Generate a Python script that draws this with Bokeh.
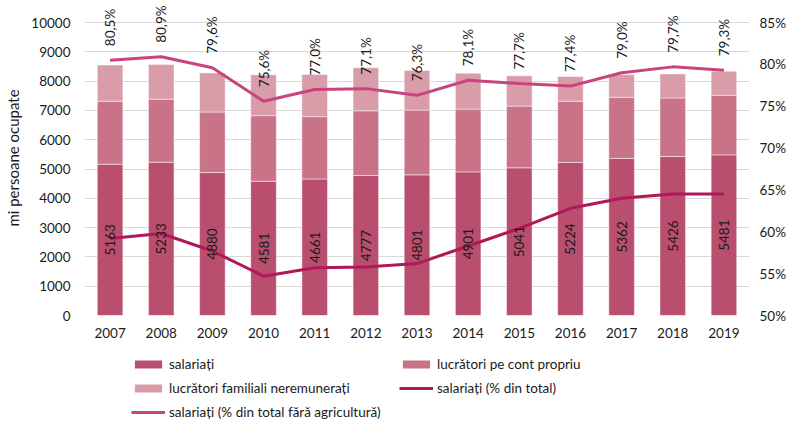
import math
from bokeh.plotting import figure
from bokeh.layouts import column
from bokeh.models import (ColumnDataSource, Range1d, LinearAxis, FactorRange,
                          Legend, LegendItem, FixedTicker, CustomJSTickFormatter)
from bokeh.core.properties import value
from bokeh.embed import file_html
from bokeh.resources import INLINE

years = ["2007", "2008", "2009", "2010", "2011", "2012", "2013",
         "2014", "2015", "2016", "2017", "2018", "2019"]
salariati = [5163, 5233, 4880, 4581, 4661, 4777, 4801, 4901, 5041, 5224, 5362, 5426, 5481]
cont_propriu = [2150, 2150, 2065, 2240, 2125, 2210, 2210, 2145, 2105, 2090, 2085, 2000, 2035]
familiali = [1235, 1180, 1335, 1395, 1440, 1470, 1350, 1225, 1035, 845, 775, 820, 820]
pct_total = [59.2, 59.8, 57.7, 54.7, 55.7, 55.8, 56.2, 58.3, 60.4, 62.8, 64.0, 64.5, 64.5]
pct_fara_agri = [80.5, 80.9, 79.6, 75.6, 77.0, 77.1, 76.3, 78.1, 77.7, 77.4, 79.0, 79.7, 79.3]

left_ticks = list(range(0, 10001, 1000))
right_ticks = list(range(50, 86, 5))

series_names = ["salariați", "lucrători pe cont propriu", "lucrători familiali neremunerați",
                "salariați (% din total)", "salariați (% din total fără agricultură)"]

FONT = "Lato"
TXT = "#1a1a1a"
C_SAL = "#B94E6F"
C_CP = "#C87387"
C_FAM = "#D99CA9"
C_LINE1 = "#B0185A"
C_LINE2 = "#C9447F"
FS = "13.5px"

src = ColumnDataSource(dict(
    years=years,
    salariati=salariati,
    cont_propriu=cont_propriu,
    familiali=familiali,
    pct_total=pct_total,
    pct_fara_agri=pct_fara_agri,
    sal_mid=[s / 2 for s in salariati],
    sal_lbl=[str(s) for s in salariati],
    pct_lbl=[("%.1f%%" % v).replace(".", ",") for v in pct_fara_agri],
))

# frame spans from the canvas top so rotated labels above 10000 are not clipped;
# the 10000 / 85% gridline sits 22px below the top
H_MAIN = 350
B_MAIN = 35
frame_h = H_MAIN - B_MAIN
gap_top = 22
ext = frame_h / (frame_h - gap_top)

p = figure(x_range=FactorRange(*years), y_range=Range1d(0, 10000 * ext),
           width=788, height=H_MAIN, output_backend="svg", toolbar_location=None,
           min_border_left=84, min_border_right=36, min_border_top=0,
           min_border_bottom=B_MAIN)
p.outline_line_color = None
p.extra_y_ranges = {"pct": Range1d(50, 50 + 35 * ext)}

p.vbar_stack(["salariati", "cont_propriu", "familiali"], x="years", width=0.5,
             source=src, color=[C_SAL, C_CP, C_FAM],
             line_color="white", line_width=0.8, line_alpha=0.6)

p.line(x="years", y="pct_total", source=src, y_range_name="pct",
       line_color=C_LINE1, line_width=3)
p.line(x="years", y="pct_fara_agri", source=src, y_range_name="pct",
       line_color=C_LINE2, line_width=3)

p.text(x="years", y="sal_mid", text="sal_lbl", source=src, angle=math.pi / 2,
       text_align="center", text_baseline="middle", text_font=value(FONT),
       text_font_size=FS, text_color=TXT)
p.text(x="years", y="pct_fara_agri", text="pct_lbl", source=src, y_range_name="pct",
       angle=math.pi / 2, text_align="left", text_baseline="middle",
       y_offset=-14, text_font=value(FONT), text_font_size=FS, text_color=TXT)

p.yaxis.ticker = FixedTicker(ticks=left_ticks)
p.yaxis.axis_label = "mi persoane ocupate"
p.yaxis.axis_label_text_font = FONT
p.yaxis.axis_label_text_font_size = "15px"
p.yaxis.axis_label_text_font_style = "normal"
p.yaxis.axis_label_text_color = TXT
p.yaxis.axis_label_standoff = 6

right = LinearAxis(y_range_name="pct", ticker=FixedTicker(ticks=right_ticks),
                   formatter=CustomJSTickFormatter(code="return tick + '%';"))
p.add_layout(right, "right")

for ax in [p.xaxis[0], p.yaxis[0], right]:
    ax.axis_line_color = None
    ax.major_tick_line_color = None
    ax.minor_tick_line_color = None
    ax.major_tick_out = 0
    ax.major_tick_in = 0
    ax.major_label_text_font = FONT
    ax.major_label_text_font_size = FS
    ax.major_label_text_color = TXT
p.yaxis[0].major_label_standoff = 14
right.major_label_standoff = 10
p.xaxis[0].major_label_standoff = 12

p.xgrid.grid_line_color = None
p.ygrid.grid_line_color = "#D9D9D9"
p.ygrid.grid_line_width = 1

# legend strip: a separate axis-less figure below the chart
# (its frame is aligned with the chart frame by the column layout)
q = figure(width=788, height=71, output_backend="svg", toolbar_location=None,
           x_range=Range1d(0, 1), y_range=Range1d(0, 1),
           x_axis_location=None, y_axis_location=None,
           min_border_left=0, min_border_right=0, min_border_top=0, min_border_bottom=0)
q.grid.visible = False
q.outline_line_color = None
# legend-only renderers, kept outside the visible range
r1 = q.vbar(x=[-5], top=[-5], bottom=[-6], width=0.1, fill_color=C_SAL, line_color=None)
r2 = q.vbar(x=[-5], top=[-5], bottom=[-6], width=0.1, fill_color=C_CP, line_color=None)
r3 = q.vbar(x=[-5], top=[-5], bottom=[-6], width=0.1, fill_color=C_FAM, line_color=None)
r4 = q.line(x=[-5, -6], y=[-5, -6], line_color=C_LINE1, line_width=3)
r5 = q.line(x=[-5, -6], y=[-5, -6], line_color=C_LINE2, line_width=3)

legend = Legend(items=[LegendItem(label=n, renderers=[r]) for n, r in
                       zip(series_names, [r1, r2, r3, r4, r5])],
                location=(47, 1), orientation="horizontal", ncols=2,
                glyph_width=34, glyph_height=10, label_standoff=4, label_height=14,
                label_width=222, spacing=8, padding=0, margin=0, border_line_color=None,
                background_fill_alpha=0, label_text_font=FONT, label_text_font_size=FS,
                label_text_color=TXT)
q.add_layout(legend, "center")

layout = column(p, q, spacing=0)
open("out.html", "w").write(file_html(layout, INLINE))
